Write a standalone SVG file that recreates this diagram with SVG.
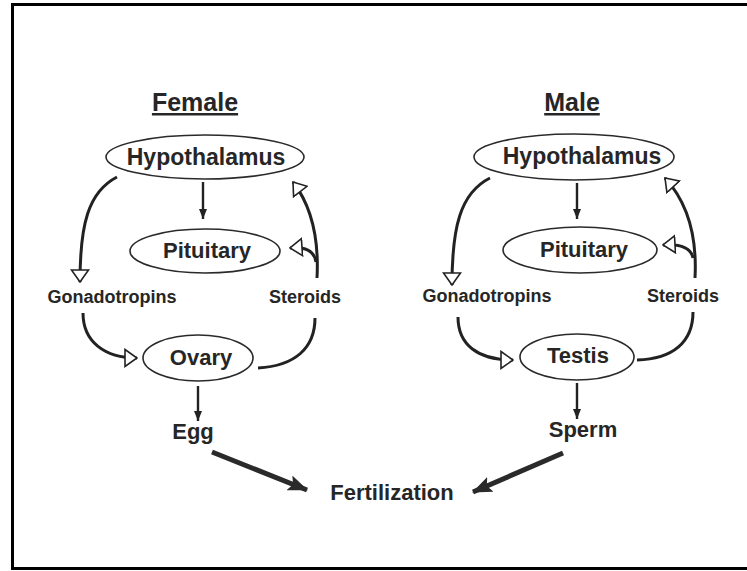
<svg xmlns="http://www.w3.org/2000/svg" width="747" height="571" viewBox="0 0 747 571">
<defs>
<style>
text{font-family:"Liberation Sans",Arial,Helvetica,sans-serif;font-weight:bold;fill:#262626;text-anchor:middle}
.title{font-size:25px;text-decoration:underline}
.big{font-size:23px}
.mid{font-size:22px}
.lbl{font-size:18px}
.node ellipse{fill:none;stroke:#2a2a2a;stroke-width:1.6}
.fb{fill:none;stroke:#222;stroke-width:3;marker-end:url(#open)}
.plain{fill:none;stroke:#222;stroke-width:3}
.down{fill:none;stroke:#222;stroke-width:2.4;marker-end:url(#small)}
.fert{fill:none;stroke:#2a2a2a;stroke-width:5;marker-end:url(#bighead)}
</style>
<marker id="open" viewBox="0 0 14 20" refX="13" refY="10" markerWidth="14" markerHeight="20" markerUnits="userSpaceOnUse" orient="auto">
<path d="M1,1.5 L13,10 L1,18.5 Z" fill="#fff" stroke="#222" stroke-width="1.6"/>
</marker>
<marker id="small" viewBox="0 0 10 8" refX="10" refY="4" markerWidth="10" markerHeight="8" markerUnits="userSpaceOnUse" orient="auto">
<path d="M0,0 L10,4 L0,8 Z" fill="#222"/>
</marker>
<marker id="bighead" viewBox="0 0 20 16" refX="19" refY="8" markerWidth="20" markerHeight="16" markerUnits="userSpaceOnUse" orient="auto">
<path d="M0,0 L20,8 L0,16 L4,8 Z" fill="#2a2a2a"/>
</marker>
</defs>
<rect x="0" y="0" width="747" height="571" fill="#fff"/>
<rect x="12.5" y="4.5" width="745" height="564" fill="none" stroke="#000" stroke-width="3"/>

<g id="titles">
<text class="title" x="195" y="111">Female</text>
<text class="title" x="572" y="111">Male</text>
</g>

<g id="connectors">
<!-- female -->
<path class="down" d="M203,182 L203,219"/>
<path class="fb" d="M117,177 C88,192 80,225 80,282"/>
<path class="fb" d="M317,278 C319,240 313,208 293,182"/>
<path class="fb" d="M316,262 C314,250 305,247 290,248"/>
<path class="fb" d="M83,313 C83,342 105,358 137,358"/>
<path class="plain" d="M315,318 C315,348 295,366 258,368"/>
<path class="down" d="M198,386 L198,421"/>
<path class="fert" d="M212,452 L307,490"/>
<!-- male -->
<path class="down" d="M577,183 L577,219"/>
<path class="fb" d="M490,178 C460,193 452,228 452,285"/>
<path class="fb" d="M695,278 C697,240 690,205 665,178"/>
<path class="fb" d="M693,258 C691,247 680,244 663,245"/>
<path class="fb" d="M458,317 C458,345 478,360 513,360"/>
<path class="plain" d="M693,312 C693,342 673,359 637,360"/>
<path class="down" d="M577,383 L577,419"/>
<path class="fert" d="M563,453 L473,492"/>
</g>

<g id="female-hypothalamus" class="node">
<ellipse cx="205" cy="157" rx="99" ry="22"/>
<text class="big" x="206" y="165">Hypothalamus</text>
</g>
<g id="female-pituitary" class="node">
<ellipse cx="205" cy="251" rx="75" ry="22"/>
<text class="mid" x="207" y="258">Pituitary</text>
</g>
<g id="female-gonadotropins" class="node">
<text class="lbl" x="112" y="303">Gonadotropins</text>
</g>
<g id="female-steroids" class="node">
<text class="lbl" x="305" y="303">Steroids</text>
</g>
<g id="ovary" class="node">
<ellipse cx="198" cy="358" rx="55" ry="23"/>
<text class="mid" x="201" y="365">Ovary</text>
</g>
<g id="egg" class="node">
<text class="mid" x="193" y="439">Egg</text>
</g>

<g id="male-hypothalamus" class="node">
<ellipse cx="574" cy="157" rx="100" ry="23"/>
<text class="big" x="582" y="164">Hypothalamus</text>
</g>
<g id="male-pituitary" class="node">
<ellipse cx="580" cy="250" rx="77" ry="23"/>
<text class="mid" x="584" y="257">Pituitary</text>
</g>
<g id="male-gonadotropins" class="node">
<text class="lbl" x="487" y="302">Gonadotropins</text>
</g>
<g id="male-steroids" class="node">
<text class="lbl" x="683" y="302">Steroids</text>
</g>
<g id="testis" class="node">
<ellipse cx="577" cy="357" rx="57" ry="23"/>
<text class="mid" x="578" y="363">Testis</text>
</g>
<g id="sperm" class="node">
<text class="mid" x="583" y="437">Sperm</text>
</g>

<g id="fertilization" class="node">
<text class="mid" x="392" y="500">Fertilization</text>
</g>
</svg>
